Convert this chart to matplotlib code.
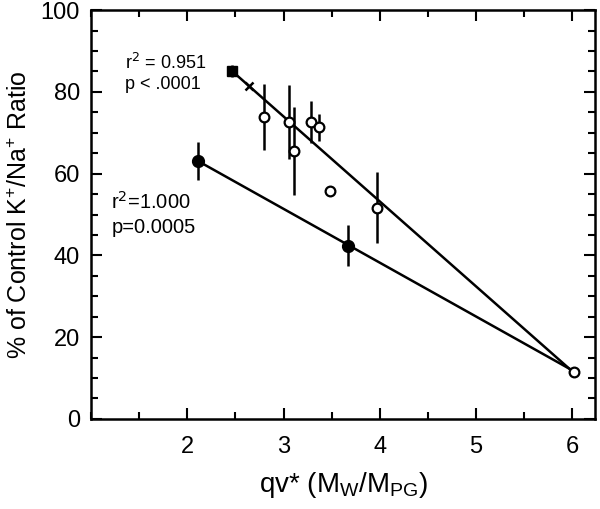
import numpy as np
import matplotlib
matplotlib.use('Agg')
import matplotlib.pyplot as plt
from matplotlib.ticker import MultipleLocator

plt.rcParams['font.family'] = ['Liberation Sans', 'DejaVu Sans']

# open circles with error bars
open_x = [2.80, 3.06, 3.11, 3.29, 3.37, 3.97]
open_y = [73.9, 72.7, 65.5, 72.7, 71.3, 51.7]
open_err = [8.0, 9.0, 10.8, 5.1, 3.3, 8.7]

# open circles without error bars
open2_x = [3.48, 6.02]
open2_y = [55.7, 11.4]

# filled circles with error bars
fill_x = [2.11, 3.67]
fill_y = [63.1, 42.4]
fill_err = [4.7, 5.1]

# filled square and x marker
sq_x, sq_y, sq_err = [2.46], [85.2], [1.5]
cross_x, cross_y = [2.64], [81.5]

# fit lines (endpoints)
fit1_x = [2.46, 5.97]
fit1_y = [85.2, 12.3]
fit2_x = [2.11, 5.97]
fit2_y = [63.1, 12.3]

fig = plt.figure(figsize=(6, 5.09), dpi=100)
ax = fig.add_axes([0.152, 0.177, 0.840, 0.803])

ax.plot(fit1_x, fit1_y, color='black', lw=1.8, zorder=2)
ax.plot(fit2_x, fit2_y, color='black', lw=1.8, zorder=2)

ax.errorbar(open_x, open_y, yerr=open_err, fmt='o', ms=7, mfc='white', mec='black',
            mew=1.6, ecolor='black', elinewidth=1.8, capsize=0, zorder=3)
ax.plot(open2_x, open2_y, 'o', ms=7, mfc='white', mec='black', mew=1.6, zorder=3)
ax.errorbar(fill_x, fill_y, yerr=fill_err, fmt='o', ms=8.5, mfc='black', mec='black',
            ecolor='black', elinewidth=1.8, capsize=0, zorder=3)
ax.errorbar(sq_x, sq_y, yerr=sq_err, fmt='s', ms=7.5, mfc='black', mec='black',
            ecolor='black', elinewidth=1.8, capsize=0, zorder=3)
ax.plot(cross_x, cross_y, 'x', ms=5.5, mew=1.8, color='black', zorder=3)

ax.text(1.35, 87.0, r'r$^2$ = 0.951', fontsize=13, va='center', ha='left')
ax.text(1.35, 81.7, 'p < .0001', fontsize=13, va='center', ha='left')
ax.text(1.21, 53.1, r'r$^2$=1.000', fontsize=14.5, va='center', ha='left')
ax.text(1.21, 46.9, 'p=0.0005', fontsize=14.5, va='center', ha='left')

ax.set_xlim(1, 6.24)
ax.set_ylim(0, 100)
ax.set_xticks([2, 3, 4, 5, 6])
ax.xaxis.set_minor_locator(MultipleLocator(0.5))
ax.set_yticks([0, 20, 40, 60, 80, 100])
ax.yaxis.set_minor_locator(MultipleLocator(5))
ax.tick_params(which='both', direction='in', top=True, right=True, width=1.5)
ax.tick_params(which='major', length=8, labelsize=17)
ax.tick_params(which='minor', length=5)
ax.tick_params(axis='x', which='major', pad=12)
ax.tick_params(axis='y', which='major', pad=8)
for s in ax.spines.values():
    s.set_linewidth(1.8)

ax.set_xlabel(r'qv* (M$_{\mathregular{W}}$/M$_{\mathregular{PG}}$)', fontsize=20, labelpad=9)
ax.set_ylabel(r'% of Control K$^{\mathregular{+}}$/Na$^{\mathregular{+}}$ Ratio', fontsize=18, labelpad=6)

fig.savefig('out.png', dpi=100)
